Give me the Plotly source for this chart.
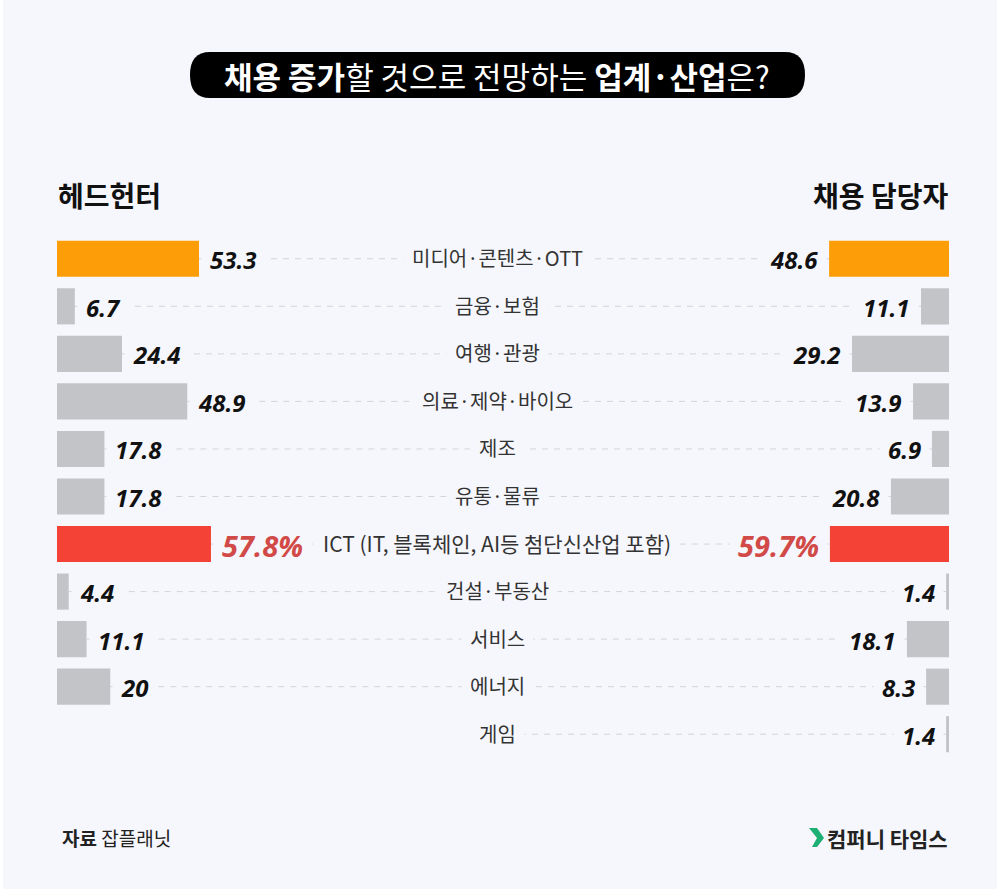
import plotly.graph_objects as go

# categories top to bottom
categories = [
    "미디어·콘텐츠·OTT", "금융·보험", "여행·관광", "의료·제약·바이오", "제조", "유통·물류",
    "ICT (IT, 블록체인, AI등 첨단신산업 포함)", "건설·부동산", "서비스", "에너지", "게임",
]
headhunter = [53.3, 6.7, 24.4, 48.9, 17.8, 17.8, 57.8, 4.4, 11.1, 20, None]
# printed figures on the right side
recruiter = [48.6, 11.1, 29.2, 13.9, 6.9, 20.8, 59.7, 1.4, 18.1, 8.3, 1.4]
# the source does not draw the right bars to scale with its printed figures,
# so these are the lengths, in left-axis units
recruiter_drawn = [45.0, 10.5, 36.4, 13.5, 6.4, 21.8, 44.7, 1.1, 15.8, 8.6, 1.1]
highlight = {0: "#FD9D07", 6: "#F44336"}

W, H = 1000, 894
BG = "#F6F7FC"
GREY = "#C2C4C8"
DASH = "#D3D4D9"
KR = "Noto Sans CJK KR"
NUM = "Open Sans"
PX_PER_UNIT = 2.664


def px(x):
    return x / W


def py(y):
    return 1 - y / H


left_max = (497 - 57) / PX_PER_UNIT
right_max = (949 - 497) / PX_PER_UNIT

fig = go.Figure()

colors = [highlight.get(i, GREY) for i in range(len(categories))]
fig.add_trace(go.Bar(x=headhunter, y=categories, orientation="h", marker_color=colors,
                     marker_line_width=0, width=0.76, xaxis="x", yaxis="y"))
fig.add_trace(go.Bar(x=recruiter_drawn, y=categories, orientation="h", marker_color=colors,
                     marker_line_width=0, width=0.76, xaxis="x2", yaxis="y"))

# dashed leader lines, the labels mask them with their background
for cat, val, drawn in zip(categories, headhunter, recruiter_drawn):
    if val is not None:
        fig.add_trace(go.Scatter(x=[val, left_max], y=[cat, cat], mode="lines", xaxis="x", yaxis="y",
                                 line=dict(color=DASH, width=1, dash="6px,6px")))
    fig.add_trace(go.Scatter(x=[drawn, right_max], y=[cat, cat], mode="lines", xaxis="x2", yaxis="y",
                             line=dict(color=DASH, width=1, dash="6px,6px")))

for i, cat in enumerate(categories):
    is_red = i == 6
    num_font = dict(family=NUM, size=29 if is_red else 24, style="italic", weight=700,
                    color="#D24A48" if is_red else "#111111")
    if headhunter[i] is not None:
        fig.add_annotation(x=headhunter[i], y=cat, xref="x", yref="y", xanchor="left", xshift=2, yshift=-1,
                           text=f"{headhunter[i]}%" if is_red else str(headhunter[i]),
                           showarrow=False, font=num_font, bgcolor=BG, borderpad=8)
    fig.add_annotation(x=recruiter_drawn[i], y=cat, xref="x2", yref="y", xanchor="right", xshift=-2, yshift=-1,
                       text=f"{recruiter[i]}%" if is_red else str(recruiter[i]),
                       showarrow=False, font=num_font, bgcolor=BG, borderpad=8)
    fig.add_annotation(x=px(497), y=cat, xref="paper", yref="y", xanchor="center", yshift=1,
                       text=cat, showarrow=False, bgcolor=BG, borderpad=8,
                       font=dict(family=KR, size=21 if is_red else 20, color="#333333"))

# background panel, title pill, logo chevron
shapes = [
    dict(type="rect", xref="paper", yref="paper", x0=px(3), x1=px(997), y0=py(889), y1=py(0),
         fillcolor=BG, line_width=0, layer="below"),
    dict(type="path", xref="paper", yref="paper", layer="below", fillcolor="#000000", line_width=0,
         path=(f"M {px(210)} {py(52)} L {px(785)} {py(52)} Q {px(805)} {py(52)} {px(805)} {py(75)} "
               f"Q {px(805)} {py(98)} {px(785)} {py(98)} L {px(210)} {py(98)} "
               f"Q {px(190)} {py(98)} {px(190)} {py(75)} Q {px(190)} {py(52)} {px(210)} {py(52)} Z")),
    dict(type="path", xref="paper", yref="paper", fillcolor="#1DAF73", line_width=0,
         path=(f"M {px(809)} {py(828)} L {px(817)} {py(828)} L {px(824)} {py(838)} L {px(817)} {py(847)} "
               f"L {px(812)} {py(847)} L {px(817)} {py(838)} Z")),
]

texts = [
    dict(x=497, y=75, text="<b>채용 증가</b>할 것으로 전망하는 <b>업계·산업</b>은?", xanchor="center",
         font=dict(family=KR, size=31, color="#FFFFFF")),
    dict(x=56, y=195, text="<b>헤드헌터</b>", xanchor="left", font=dict(family=KR, size=28, color="#111111")),
    dict(x=950, y=195, text="<b>채용 담당자</b>", xanchor="right", font=dict(family=KR, size=28, color="#111111")),
    dict(x=60, y=837, text="<b>자료</b> 잡플래닛", xanchor="left", font=dict(family=KR, size=19, color="#222222")),
    dict(x=950, y=838, text="<b>컴퍼니 타임스</b>", xanchor="right", font=dict(family=KR, size=21, color="#222222")),
]
for t in texts:
    fig.add_annotation(x=px(t["x"]), y=py(t["y"]), xref="paper", yref="paper", yanchor="middle",
                       xanchor=t["xanchor"], text=t["text"], font=t["font"], showarrow=False)

fig.update_layout(
    width=W,
    height=H,
    margin=dict(l=0, r=0, t=0, b=0),
    paper_bgcolor="#FFFFFF",
    plot_bgcolor="rgba(0,0,0,0)",
    showlegend=False,
    shapes=shapes,
    xaxis=dict(domain=[px(57), px(497)], range=[0, left_max], visible=False),
    xaxis2=dict(domain=[px(497), px(949)], range=[right_max, 0], visible=False),
    yaxis=dict(domain=[py(758), py(235)], categoryorder="array", categoryarray=categories,
               range=[10.5, -0.5], visible=False),
)

fig.write_html("out.html", config={"displayModeBar": False},
               post_script="document.body.style.margin='0';")
